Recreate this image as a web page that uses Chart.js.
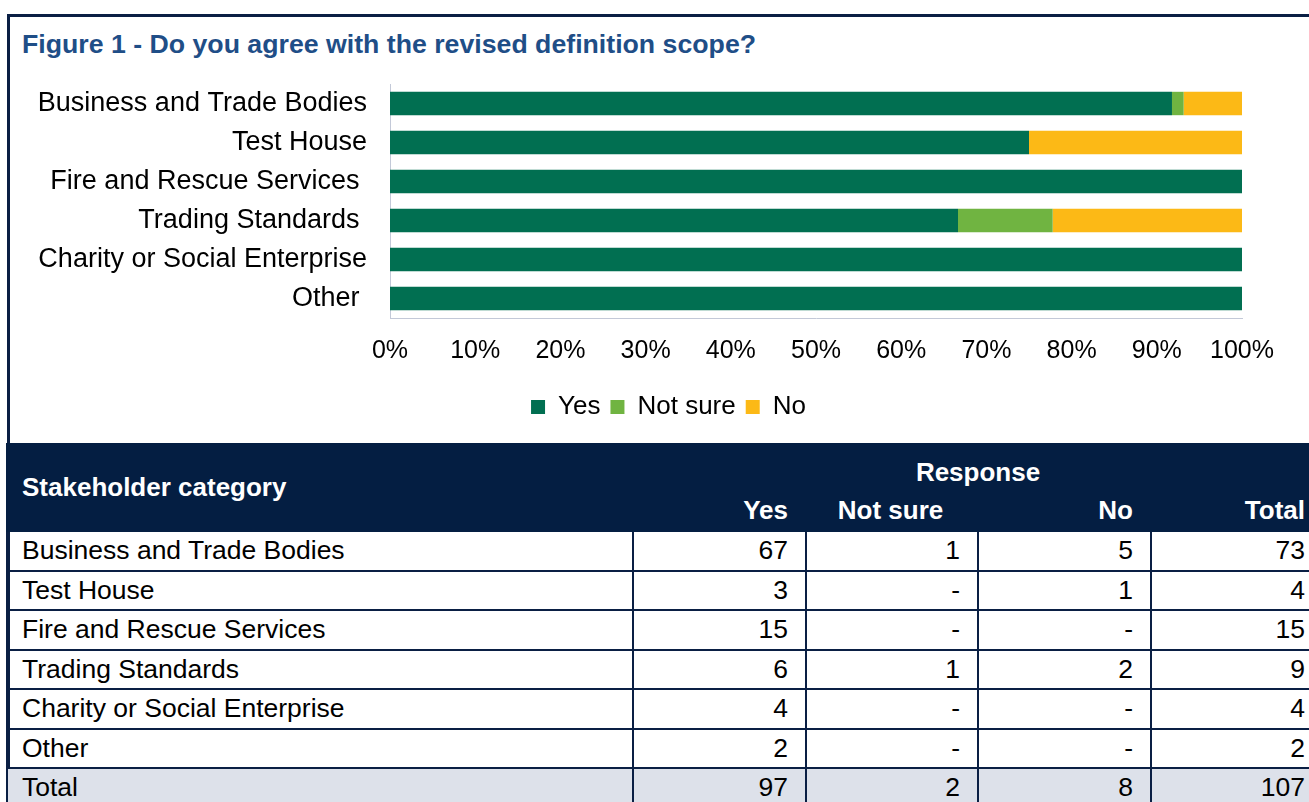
<!DOCTYPE html>
<html>
<head>
<meta charset="utf-8">
<script src="https://cdn.jsdelivr.net/npm/chart.js@4.4.1/dist/chart.umd.min.js"></script>
<style>
    body { margin: 0; background: #fff; font-family: "Liberation Sans", Arial, sans-serif; }
    #frame { position: absolute; left: 7px; top: 14px; width: 1400px; height: 900px;
             border-top: 3px solid #0a1f44; border-left: 3px solid #0a1f44; }
    #title { position: absolute; left: 22px; top: 29px; font-size: 26.7px; font-weight: bold; color: #1f4e87; }
    #wrapper-chart { position: absolute; left: 10px; top: 70px; width: 1299px; height: 370px; }
    table { position: absolute; left: 6px; top: 443px; border-collapse: collapse; table-layout: fixed;
            width: 1316px; font-size: 26.5px; color: #000; }
    td, th { padding: 0 17px 0 14px; border: 2px solid #0a1f44; height: 37.5px; white-space: nowrap; overflow: hidden; }
    th { background: #041e42; color: #fff; font-size: 26px; border-color: #041e42; }
    .num { text-align: right; }
    tr.total td { background: #dde1ea; }
</style>
</head>
<body>
<div id="frame"></div>
<div id="title">Figure 1 - Do you agree with the revised definition scope?</div>
<div id="wrapper-chart"><canvas id="chartScope"></canvas></div>
<table id="scope-table">
    <colgroup><col style="width:626px"><col style="width:173px"><col style="width:172px"><col style="width:173px"><col style="width:172px"></colgroup>
</table>

<script>
// categories (chart labels keep the trailing spaces of the original)
let categories = ["Business and Trade Bodies", "Test House", "Fire and Rescue Services ", "Trading Standards ", "Charity or Social Enterprise", "Other "];
let yesCounts = [67, 3, 15, 6, 4, 2];
let notSureCounts = [1, 0, 0, 1, 0, 0];
let noCounts = [5, 1, 0, 2, 0, 0];
let seriesNames = ["Yes", "Not sure", "No"];
let seriesColors = ["#016f51", "#70b441", "#fcb916"];
let tickValues = [0, 10, 20, 30, 40, 50, 60, 70, 80, 90, 100];

let rowTotals = categories.map((c, i) => yesCounts[i] + notSureCounts[i] + noCounts[i]);
let toShare = (arr) => arr.map((v, i) => v / rowTotals[i] * 100);

let fontFamily = '"Liberation Sans", Arial, sans-serif';

let scopeChart = new Chart(document.getElementById("chartScope"), {
    type: 'bar',
    data: {
        labels: categories,
        datasets: [yesCounts, notSureCounts, noCounts].map((arr, i) => ({
            label: seriesNames[i],
            backgroundColor: seriesColors[i],
            data: toShare(arr),
            categoryPercentage: 1,
            barPercentage: 0.6
        }))
    },
    options: {
        indexAxis: 'y',
        responsive: true,
        maintainAspectRatio: false,
        animation: false,
        layout: { padding: { top: 14, right: 0, bottom: 10, left: 18 } },
        plugins: {
            tooltip: { enabled: false },
            legend: {
                position: 'bottom',
                labels: {
                    boxWidth: 14,
                    boxHeight: 14,
                    padding: 10,
                    color: '#000',
                    font: { family: fontFamily, size: 26 }
                }
            }
        },
        scales: {
            x: {
                stacked: true,
                min: 0,
                max: 100,
                afterBuildTicks: (scale) => { scale.ticks = tickValues.map(v => ({ value: v })); },
                afterFit: (scale) => {
                    scale.height = 66;
                    scale.paddingLeft = 0;
                    scale.paddingRight = 67;
                },
                grid: { display: false, drawTicks: false },
                border: { display: true, color: '#c3c9d8' },
                ticks: {
                    padding: 18,
                    color: '#000',
                    font: { family: fontFamily, size: 25 },
                    callback: (v) => v + '%'
                }
            },
            y: {
                stacked: true,
                afterFit: (scale) => {
                    scale.width = 362;
                    scale.paddingTop = 0;
                    scale.paddingBottom = 0;
                },
                grid: { display: false, drawTicks: false },
                border: { display: true, color: '#c3c9d8' },
                ticks: {
                    padding: 23,
                    color: '#000',
                    font: { family: fontFamily, size: 27 }
                }
            }
        }
    }
});

// Tableau des réponses
let table = document.getElementById("scope-table");
let html = '<tr><th rowspan="2" style="text-align:left;">Stakeholder category</th>' +
    '<th colspan="4" style="text-align:center;height:43px;vertical-align:bottom;padding-left:0;padding-right:0;">Response</th></tr>' +
    '<tr>' + ["Yes", "Not sure", "No", "Total"].map(h => '<th class="num" style="height:40px;' + (h === "Not sure" ? 'text-align:center;' : '') + '">' + h + '</th>').join('') + '</tr>';

let fmt = (v) => v === 0 ? '-' : v;
categories.forEach((c, i) => {
    html += '<tr><td>' + c.trim() + '</td><td class="num">' + fmt(yesCounts[i]) + '</td><td class="num">' +
        fmt(notSureCounts[i]) + '</td><td class="num">' + fmt(noCounts[i]) + '</td><td class="num">' + rowTotals[i] + '</td></tr>';
});
let sum = (arr) => arr.reduce((a, b) => a + b, 0);
html += '<tr class="total"><td>Total</td><td class="num">' + sum(yesCounts) + '</td><td class="num">' + sum(notSureCounts) +
    '</td><td class="num">' + sum(noCounts) + '</td><td class="num">' + sum(rowTotals) + '</td></tr>';
table.insertAdjacentHTML('beforeend', html);
</script>
</body>
</html>
